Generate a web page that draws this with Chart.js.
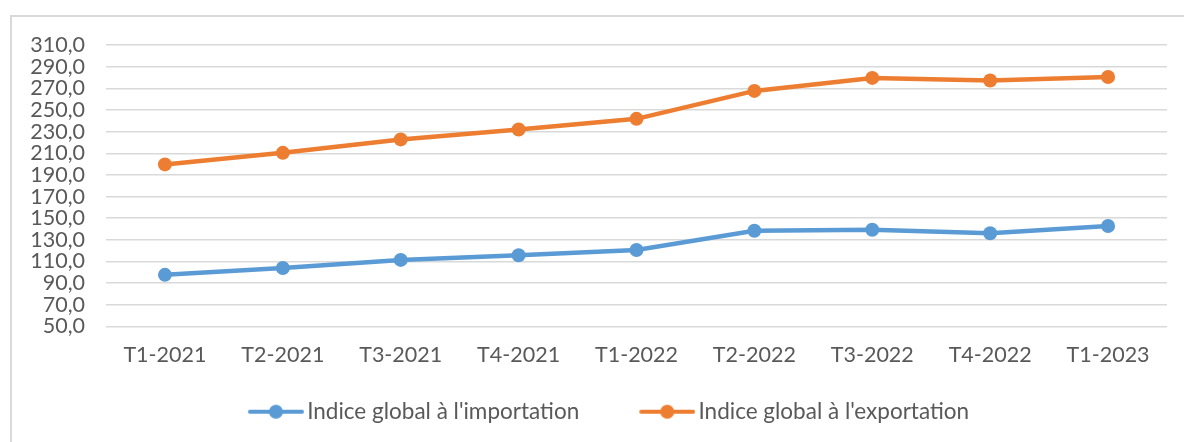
<!DOCTYPE html>
<html>
<head>
<meta charset="utf-8">
<script src="https://cdn.jsdelivr.net/npm/chart.js@4"></script>
<style>
  html, body { margin: 0; padding: 0; background: #fff; overflow: hidden; }
  #cadre { position: absolute; left: 10px; top: 15px; width: 1200px; height: 500px; border: 2px solid #d9d9d9; }
  #wrap { position: absolute; left: 0; top: 0; width: 1184px; height: 442px; }
</style>
</head>
<body>
<div id="cadre"></div>
<div id="wrap"><canvas id="grafico" width="1184" height="442"></canvas></div>
<script>
const trimestres = ['T1-2021', 'T2-2021', 'T3-2021', 'T4-2021', 'T1-2022', 'T2-2022', 'T3-2022', 'T4-2022', 'T1-2023'];
const importation = [97.7, 104.1, 111.5, 115.8, 120.7, 138.5, 139.4, 136.1, 142.8];
const exportation = [199.7, 210.4, 222.8, 232.0, 241.8, 267.6, 279.6, 277.2, 280.5];
const yMin = 50, yMax = 310, yStep = 20;

const bleu = '#5B9BD5';
const orange = '#ED7D31';
const gris = '#595959';

// petite image "trait + rond" pour la légende
function iconeLegende(couleur) {
  const c = document.createElement('canvas');
  c.width = 114; c.height = 16;
  const g = c.getContext('2d');
  g.strokeStyle = couleur;
  g.lineWidth = 4;
  g.lineCap = 'round';
  g.beginPath(); g.moveTo(60, 8); g.lineTo(112, 8); g.stroke();
  g.fillStyle = couleur;
  g.beginPath(); g.arc(86, 8, 7, 0, Math.PI * 2); g.fill();
  return c;
}

const ctx = document.getElementById('grafico').getContext('2d');
new Chart(ctx, {
  type: 'line',
  data: {
    labels: trimestres,
    datasets: [{
      label: "Indice global à l'importation",
      data: importation,
      borderColor: bleu,
      backgroundColor: bleu,
      borderWidth: 4.5,
      pointRadius: 7,
      pointBackgroundColor: bleu,
      pointBorderWidth: 0,
      tension: 0
    }, {
      label: "Indice global à l'exportation",
      data: exportation,
      borderColor: orange,
      backgroundColor: orange,
      borderWidth: 4.5,
      pointRadius: 7,
      pointBackgroundColor: orange,
      pointBorderWidth: 0,
      tension: 0
    }]
  },
  options: {
    responsive: false,
    animation: false,
    events: [],
    layout: { padding: { top: 45, right: 17, left: 0, bottom: 9 } },
    scales: {
      x: {
        offset: true,
        grid: { display: false, drawTicks: false },
        border: { display: false },
        ticks: { color: gris, font: { family: 'Lato', size: 21.5 }, padding: 16, maxRotation: 0 },
        afterFit: s => { s.height = 64; }
      },
      y: {
        min: yMin,
        max: yMax,
        grid: { color: '#d9d9d9', lineWidth: 1.5, drawTicks: false },
        border: { display: false },
        ticks: {
          stepSize: yStep,
          autoSkip: false,
          color: gris,
          padding: 21,
          font: { family: 'Lato', size: 21.5, lineHeight: 1 },
          callback: v => v.toFixed(1).replace('.', ',')
        },
        afterFit: s => { s.width = 106; }
      }
    },
    plugins: {
      legend: {
        position: 'bottom',
        labels: {
          usePointStyle: true,
          pointStyleWidth: 98,
          padding: 10,
          color: gris,
          font: { family: 'Lato', size: 22.5 },
          generateLabels: chart => chart.data.datasets.map((d, i) => ({
            text: d.label,
            fillStyle: d.borderColor,
            strokeStyle: d.borderColor,
            fontColor: gris,
            lineWidth: 0,
            pointStyle: iconeLegende(d.borderColor),
            datasetIndex: i
          }))
        }
      },
      tooltip: { enabled: false }
    }
  }
});
</script>
</body>
</html>
